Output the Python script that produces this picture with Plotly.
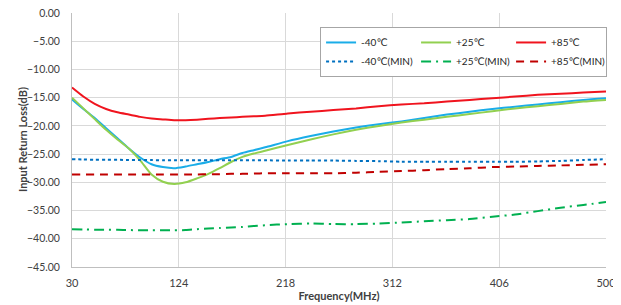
import plotly.graph_objects as go

FREQ = [30, 40, 50, 60, 70, 80, 90, 100, 110, 120, 130, 140, 150, 160, 170, 180, 190, 200,
        220, 240, 260, 280, 300, 320, 340, 360, 380, 400, 420, 440, 460, 480, 500]

M40 = [-15.3, -17.0, -18.6, -20.4, -22.2, -24.0, -25.6, -26.8, -27.3, -27.5, -27.2, -26.8,
       -26.4, -25.9, -25.5, -24.8, -24.3, -23.8, -22.7, -21.8, -21.0, -20.3, -19.7, -19.2,
       -18.6, -18.0, -17.5, -17.0, -16.6, -16.2, -15.8, -15.4, -15.1]
P25 = [-15.0, -16.9, -18.8, -20.7, -22.4, -24.0, -26.1, -28.6, -29.9, -30.3, -30.0, -29.3,
       -28.5, -27.5, -26.4, -25.5, -24.9, -24.4, -23.4, -22.4, -21.5, -20.7, -20.0, -19.4,
       -18.9, -18.4, -17.9, -17.4, -16.9, -16.5, -16.1, -15.7, -15.4]
P85 = [-13.2, -14.8, -16.1, -17.0, -17.6, -18.0, -18.4, -18.7, -18.85, -19.0, -19.0, -18.9,
       -18.75, -18.6, -18.5, -18.4, -18.3, -18.2, -17.8, -17.5, -17.2, -16.9, -16.5, -16.2,
       -16.0, -15.7, -15.4, -15.1, -14.8, -14.5, -14.3, -14.1, -13.9]
M40_MIN = [-25.9, -25.95, -26.0, -26.0, -26.0, -26.05, -26.05, -26.05, -26.1, -26.1, -26.1, -26.1,
           -26.1, -26.1, -26.1, -26.1, -26.1, -26.1, -26.15, -26.15, -26.15, -26.2, -26.25, -26.35,
           -26.35, -26.35, -26.35, -26.35, -26.35, -26.3, -26.2, -26.05, -25.9]
P25_MIN = [-38.3, -38.35, -38.4, -38.4, -38.4, -38.45, -38.5, -38.5, -38.5, -38.5, -38.45, -38.3,
           -38.2, -38.1, -38.0, -37.9, -37.75, -37.6, -37.4, -37.3, -37.4, -37.4, -37.3, -37.1,
           -36.9, -36.7, -36.5, -36.1, -35.7, -35.1, -34.5, -34.0, -33.5]
P85_MIN = [-28.6, -28.6, -28.6, -28.6, -28.6, -28.6, -28.6, -28.6, -28.6, -28.6, -28.6, -28.6,
           -28.55, -28.55, -28.5, -28.5, -28.45, -28.4, -28.4, -28.4, -28.4, -28.3, -28.15, -28.0,
           -27.85, -27.65, -27.5, -27.3, -27.2, -27.1, -27.0, -26.9, -26.8]

XTICKS = [30, 124, 218, 312, 406, 500]
Y_TITLE = "Input Return Loss(dB)"
X_TITLE = "Frequency(MHz)"

SERIES = [
    ("-40℃", M40, "#1AADE8", "solid"),
    ("+25℃", P25, "#92D050", "solid"),
    ("+85℃", P85, "#F0141E", "solid"),
    ("-40℃(MIN)", M40_MIN, "#0070C0", "dot"),
    ("+25℃(MIN)", P25_MIN, "#00B050", "10px,5px,2px,5px"),
    ("+85℃(MIN)", P85_MIN, "#C00000", "8px,6px"),
]

fig = go.Figure()
for name, vals, color, dash in SERIES:
    fig.add_trace(go.Scatter(x=FREQ, y=vals, name=name, mode="lines",
                             line=dict(color=color, width=2, dash=dash, shape="spline", smoothing=0.6)))

# page body has an 8px margin: figure is 613x297 placed at (8,8)
font = "Lato, Liberation Sans, DejaVu Sans, sans-serif"
fig.update_layout(
    width=613, height=297,
    margin=dict(l=64, r=15, t=5, b=38, autoexpand=False),
    paper_bgcolor="white", plot_bgcolor="white",
    font=dict(family=font, size=11, color="#595959"),
    xaxis=dict(range=[30, 500], tickvals=XTICKS, ticktext=[str(v) for v in XTICKS],
               showgrid=True, gridcolor="#D9D9D9", gridwidth=1,
               showline=True, linecolor="#BFBFBF", zeroline=False, ticks="",
               ticklabelstandoff=6, ticklabeloverflow="allow",
               tickfont=dict(size=11, color="#404040"),
               title=dict(text="<b>" + X_TITLE + "</b>", standoff=4,
                          font=dict(size=11, color="#404040"))),
    yaxis=dict(range=[-45, 0], dtick=5, tickformat=".2f",
               showgrid=True, gridcolor="#D9D9D9", gridwidth=1,
               showline=True, linecolor="#BFBFBF", zeroline=False, ticks="",
               ticklabelstandoff=9, ticklabeloverflow="allow",
               tickfont=dict(size=10.5, color="#404040")),
    legend=dict(orientation="h", x=1.002, xanchor="right", y=0.945, yanchor="top",
                entrywidth=50, entrywidthmode="pixels",
                bgcolor="white", bordercolor="#A6A6A6", borderwidth=1,
                font=dict(size=10, color="#262626"), itemwidth=30,
                tracegroupgap=0),
    annotations=[dict(text="<b>" + Y_TITLE + "</b>", textangle=-90,
                      xref="paper", yref="paper", x=-0.0936, y=0.5,
                      xanchor="center", yanchor="middle", showarrow=False,
                      font=dict(size=11, color="#404040"))],
)

fig.write_html("out.html")
